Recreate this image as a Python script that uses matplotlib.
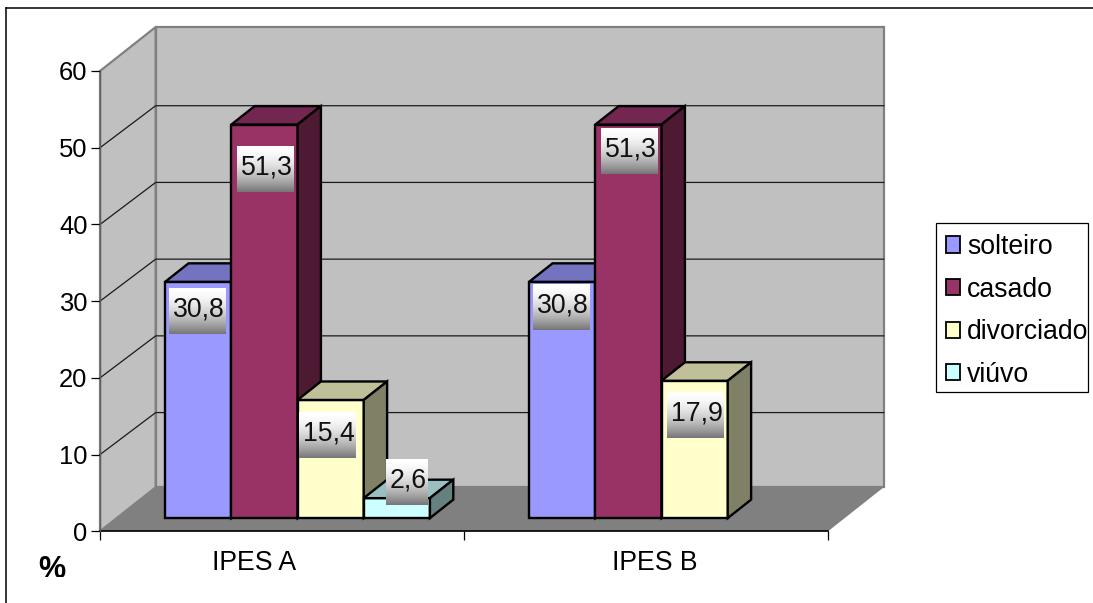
import numpy as np
import matplotlib
matplotlib.use("Agg")
import matplotlib.pyplot as plt
from matplotlib.lines import Line2D
from matplotlib.patches import Patch, Polygon, Rectangle
from matplotlib.transforms import Bbox

# === Data ===
categories = ["IPES A", "IPES B"]
solteiro = [30.8, 30.8]
casado = [51.3, 51.3]
divorciado = [15.4, 17.9]
viuvo = [2.6, np.nan]
series_names = ["solteiro", "casado", "divorciado", "viúvo"]
y_ticks = [0, 10, 20, 30, 40, 50, 60]

# label box centres, one list per group, in axis units
label_x = [[0.267, 0.455, 0.625, 0.843], [1.268, 1.455, 1.636]]
label_y = [[28.7, 47.25, 12.6, 6.43], [29.3, 49.6, 15.2]]
cat_label_x = [0.424, 1.523]

# === Style ===
W, H = 1093, 603
front = ["#9999FF", "#993366", "#FFFFCC", "#CCFFFF"]
top = ["#7373BF", "#732650", "#BFBF99", "#99BFBF"]
side = ["#4D4D80", "#4D1933", "#808066", "#668080"]
wall_color = "#C0C0C0"
floor_color = "#808080"
tick_size = 18.4
font_size = 19.2

plt.rcParams["font.family"] = ["Liberation Sans", "DejaVu Sans"]

fig = plt.figure(figsize=(W / 100, H / 100), dpi=100, facecolor="white")
ax = fig.add_axes([100 / W, 1 - 531.3 / H, 728 / W, 460.3 / H])
ax.set_xlim(0, 2)
ax.set_ylim(0, 60)
ax.patch.set_visible(False)
for name in ["top", "right", "bottom"]:
    ax.spines[name].set_visible(False)
ax.spines["left"].set_color("#606060")
ax.spines["left"].set_linewidth(1.0)
ax.spines["left"].set_zorder(3)

# depth of the fake 3D box, in axis units
depth_x = 55.7 / 364
depth_y = 44 / 7.672
bar_width = 66.2 / 364
bar_start = 0.133
bar_near = 0.30
bar_far = 0.72
grid_drop = 0.26


def shift(x, y, d):
    return x + d * depth_x, y + d * depth_y


def add_poly(points, color, edge="none", lw=0.0, z=1):
    ax.add_patch(Polygon(points, closed=True, facecolor=color, edgecolor=edge,
                         linewidth=lw, joinstyle="miter", clip_on=False, zorder=z))


# walls and floor
add_poly([shift(0, 0, 0), shift(0, 0, 1), shift(0, 60, 1), shift(0, 60, 0)],
         wall_color, "#808080", 1.6, 1)
add_poly([shift(0, 0, 1), shift(2, 0, 1), shift(2, 60, 1), shift(0, 60, 1)],
         wall_color, "#808080", 1.6, 1)
add_poly([shift(0, 0, 0), shift(2, 0, 0), shift(2, 0, 1), shift(0, 0, 1)],
         floor_color, z=2)

# gridlines on the two walls
for t in y_ticks[1:-1]:
    xs, ys = zip(shift(0, t, 0), shift(0, t - grid_drop, 1), shift(2, t - grid_drop, 1))
    ax.plot(xs, ys, color="#1a1a1a", lw=0.9, clip_on=False, zorder=2)
ax.plot([0, 2], [0, 0], color="black", lw=1.2, clip_on=False, zorder=3)

# bars, left to right
z = 4
for g in range(len(categories)):
    values = [solteiro[g], casado[g], divorciado[g], viuvo[g]]
    for i, v in enumerate(values):
        if np.isnan(v):
            continue
        x0 = g + bar_start + i * bar_width
        x1 = x0 + bar_width
        a = shift(x0, 0, bar_near)
        b = shift(x1, 0, bar_near)
        c = shift(x1, v, bar_near)
        d = shift(x0, v, bar_near)
        e = shift(x1, 0, bar_far)
        f = shift(x1, v, bar_far)
        k = shift(x0, v, bar_far)
        add_poly([a, b, c, d], front[i], "black", 1.7, z)
        add_poly([d, c, f, k], top[i], "black", 1.7, z)
        add_poly([b, e, f, c], side[i], "black", 1.7, z)
        z += 1

# value labels on a white to grey box
t = np.linspace(0, 1, 46) ** 1.7
shade = 1 - 0.53 * t
grad = np.dstack([shade, shade, shade]).reshape(46, 1, 3)
for g in range(len(categories)):
    values = [solteiro[g], casado[g], divorciado[g], viuvo[g]]
    for i, v in enumerate(values):
        if np.isnan(v):
            continue
        text = f"{v:.1f}".replace(".", ",")
        xc = label_x[g][i]
        yc = label_y[g][i]
        half_w = (57 if len(text) > 3 else 42) / 2 / 364
        half_h = 23 / 7.672
        ax.imshow(grad, extent=[xc - half_w, xc + half_w, yc - half_h, yc + half_h],
                  aspect="auto", interpolation="nearest", clip_on=False, zorder=20)
        ax.text(xc + 0.004, yc + 0.15, text, ha="center", va="center", fontsize=font_size,
                color="#111111", zorder=21)

ax.set_xlim(0, 2)
ax.set_ylim(0, 60)

# axes ticks
ax.set_yticks(y_ticks)
ax.set_xticks([0, 1, 2])
ax.set_xticklabels(["", "", ""])
ax.tick_params(axis="y", length=6.5, width=0.9, pad=2.5, labelsize=tick_size, colors="black")
ax.tick_params(axis="x", length=6.5, width=0.9, colors="black")

for name, x in zip(categories, cat_label_x):
    ax.text(x, -5.0, name, ha="center", va="baseline", fontsize=font_size,
            color="black", clip_on=False)

# outer frame has only a top and a left line
fig.add_artist(Line2D([5.5 / W, 5.5 / W], [0, 1 - 7.5 / H], color="black", lw=1.1))
fig.add_artist(Line2D([5.5 / W, 1], [1 - 7.5 / H, 1 - 7.5 / H], color="black", lw=1.1))

# % is cut off at the bottom in the original
pct = fig.text(52 / W, 1 - 578 / H, "%", ha="center", va="baseline", fontsize=22,
               fontweight="bold", color="black")
pct.set_clip_box(Bbox([[0, H - 577], [W, H]]))
pct.set_clip_on(True)

# legend
fig.add_artist(Rectangle((935.7 / W, 1 - 391.7 / H), 152 / W, 168.7 / H,
                         transform=fig.transFigure, facecolor="none",
                         edgecolor="black", linewidth=0.9))
handles = [Patch(facecolor=c, edgecolor="black", linewidth=1.3) for c in front]
leg = ax.legend(handles, series_names, loc="upper left",
                bbox_to_anchor=(945.5 / W, 1 - 234 / H), bbox_transform=fig.transFigure,
                frameon=False, fontsize=font_size, borderpad=0, borderaxespad=0,
                handlelength=0.56, handleheight=0.56, handletextpad=0.26, labelspacing=0.62)
leg.set_zorder(30)

fig.savefig("out.png", dpi=100)
